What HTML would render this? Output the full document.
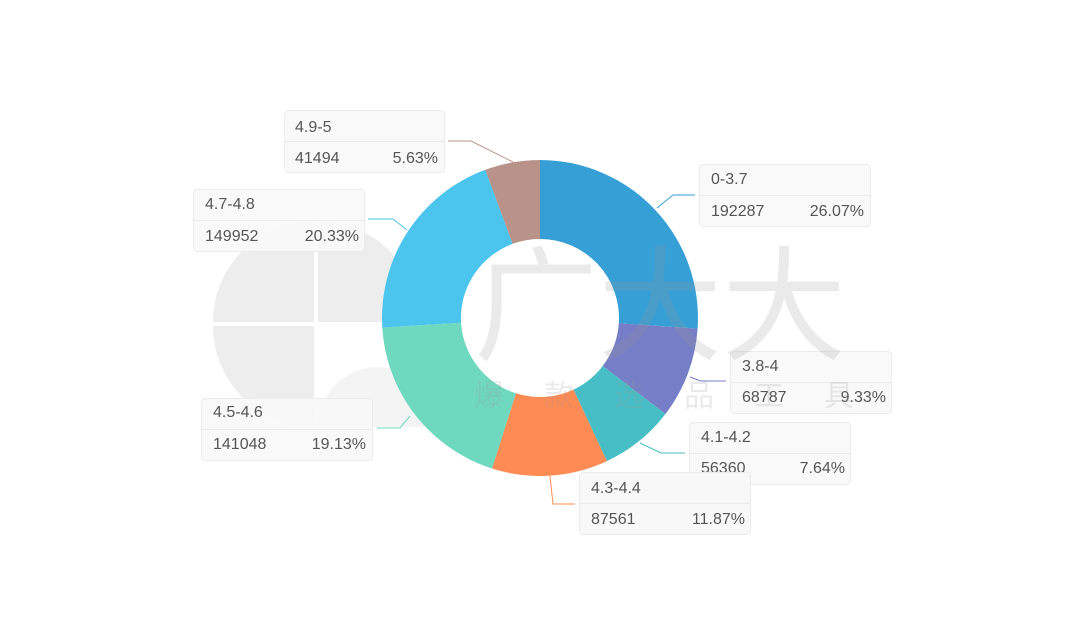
<!DOCTYPE html>
<html><head><meta charset="utf-8"><style>
body{margin:0;background:#fff;}
svg text{font-family:"Liberation Sans","Noto Sans CJK SC",sans-serif;}
</style></head><body>
<svg width="1080" height="637" viewBox="0 0 1080 637" xmlns="http://www.w3.org/2000/svg">
<rect width="1080" height="637" fill="#fff"/>
<g opacity="0.22" fill="#b0b0b0">
<path d="M314,221 A101,101 0 0 0 213,322 L314,322 Z"/>
<path d="M318,221 A101,101 0 0 1 419,322 L318,322 Z"/>
<path d="M213,326 A101,101 0 0 0 314,427 L314,326 Z"/>
<path d="M318,427 A60,60 0 0 1 378,367 A60,60 0 0 1 438,427 Z" opacity="0.6"/>
</g>
<path d="M540,160 A158,158 0 0 1 697.6,328.6 L618.8,323.3 A79,79 0 0 0 540,239 Z" fill="#369fd6"/>
<path d="M697.6,328.6 A158,158 0 0 1 665.5,414 L602.7,366 A79,79 0 0 0 618.8,323.3 Z" fill="#757ec6"/>
<path d="M665.5,414 A158,158 0 0 1 606.9,461.1 L573.5,389.6 A79,79 0 0 0 602.7,366 Z" fill="#47bec6"/>
<path d="M606.9,461.1 A158,158 0 0 1 492,468.5 L516,393.3 A79,79 0 0 0 573.5,389.6 Z" fill="#fe8b53"/>
<path d="M492,468.5 A158,158 0 0 1 382.3,327.5 L461.1,322.8 A79,79 0 0 0 516,393.3 Z" fill="#6ed9be"/>
<path d="M382.3,327.5 A158,158 0 0 1 485.3,169.8 L512.6,243.9 A79,79 0 0 0 461.1,322.8 Z" fill="#4bc5ee"/>
<path d="M485.3,169.8 A158,158 0 0 1 540,160 L540,239 A79,79 0 0 0 512.6,243.9 Z" fill="#b99289"/>
<g fill="none" stroke-width="1">
<polyline points="657,208 673,195 695,195" stroke="#369fd6"/>
<polyline points="690,377 701,381 726,381" stroke="#757ec6"/>
<polyline points="640,443 661,453 685,453" stroke="#47bec6"/>
<polyline points="550,476 553,504 575,504" stroke="#fe8b53"/>
<polyline points="410,416 400,428 377,428" stroke="#6ed9be"/>
<polyline points="407,230 393,219 368,219" stroke="#4bc5ee"/>
<polyline points="513,162 471,141 448,141" stroke="#b99289"/>
</g>
<g font-size="16" fill="#555">
<g><rect x="284.5" y="110.5" width="160" height="62" rx="4" fill="#f8f8f8" fill-opacity="0.9" stroke="#ebebeb"/><line x1="285" y1="141.5" x2="444" y2="141.5" stroke="#ebebeb"/>
<text x="295" y="132">4.9-5</text><text x="295" y="163">41494</text><text x="438" y="163" text-anchor="end">5.63%</text></g>
<g><rect x="193.5" y="189.5" width="171" height="62" rx="4" fill="#f8f8f8" fill-opacity="0.9" stroke="#ebebeb"/><line x1="194" y1="220.5" x2="364" y2="220.5" stroke="#ebebeb"/>
<text x="205" y="209">4.7-4.8</text><text x="205" y="241">149952</text><text x="359" y="241" text-anchor="end">20.33%</text></g>
<g><rect x="201.5" y="398.5" width="171" height="62" rx="4" fill="#f8f8f8" fill-opacity="0.9" stroke="#ebebeb"/><line x1="202" y1="429.5" x2="372" y2="429.5" stroke="#ebebeb"/>
<text x="213" y="417">4.5-4.6</text><text x="213" y="449">141048</text><text x="366" y="449" text-anchor="end">19.13%</text></g>
<g><rect x="699.5" y="164.5" width="171" height="62" rx="4" fill="#f8f8f8" fill-opacity="0.9" stroke="#ebebeb"/><line x1="700" y1="195.5" x2="870" y2="195.5" stroke="#ebebeb"/>
<text x="711" y="184">0-3.7</text><text x="711" y="216">192287</text><text x="864" y="216" text-anchor="end">26.07%</text></g>
<g><rect x="730.5" y="351.5" width="161" height="62" rx="4" fill="#f8f8f8" fill-opacity="0.9" stroke="#ebebeb"/><line x1="731" y1="382.5" x2="891" y2="382.5" stroke="#ebebeb"/>
<text x="742" y="371">3.8-4</text><text x="742" y="402">68787</text><text x="886" y="402" text-anchor="end">9.33%</text></g>
<g><rect x="689.5" y="422.5" width="161" height="62" rx="4" fill="#f8f8f8" fill-opacity="0.9" stroke="#ebebeb"/><line x1="690" y1="453.5" x2="850" y2="453.5" stroke="#ebebeb"/>
<text x="701" y="442">4.1-4.2</text><text x="701" y="473">56360</text><text x="845" y="473" text-anchor="end">7.64%</text></g>
<g><rect x="579.5" y="472.5" width="171" height="62" rx="4" fill="#f8f8f8" fill-opacity="0.95" stroke="#ebebeb"/><line x1="580" y1="503.5" x2="750" y2="503.5" stroke="#ebebeb"/>
<text x="591" y="493">4.3-4.4</text><text x="591" y="524">87561</text><text x="745" y="524" text-anchor="end">11.87%</text></g>
</g>
<g opacity="0.2" fill="#999">
<text x="474" y="350" font-size="124">广大大</text>
<text x="474" y="406" font-size="30" letter-spacing="40">爆款选品工具</text>
</g>
</svg>
</body></html>
